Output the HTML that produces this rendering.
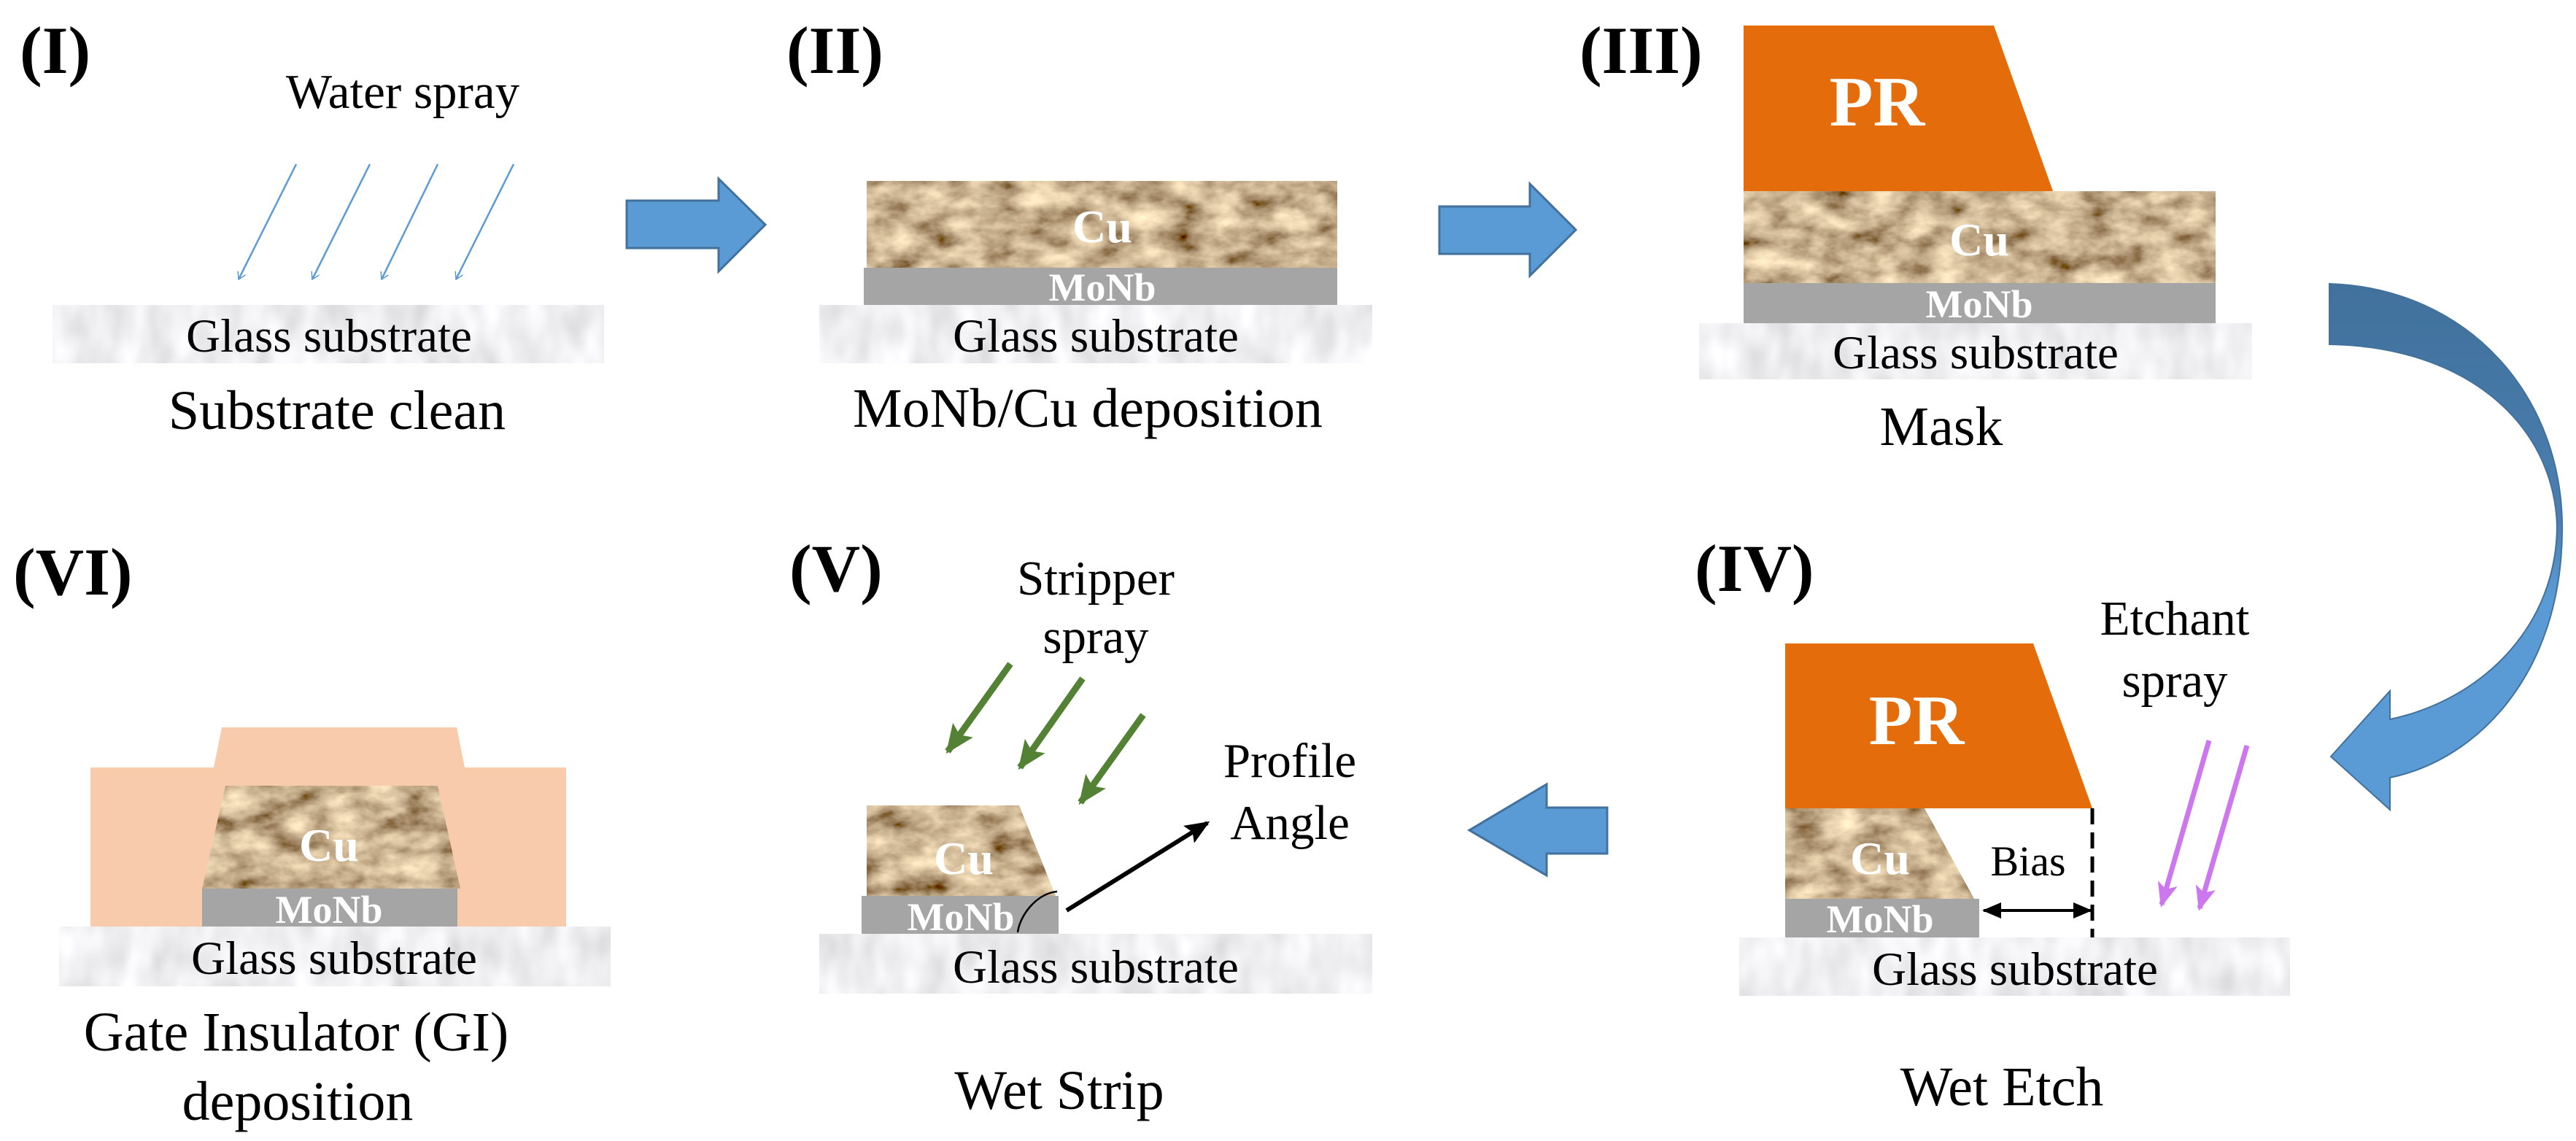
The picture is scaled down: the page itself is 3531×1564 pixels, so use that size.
<!DOCTYPE html>
<html><head><meta charset="utf-8"><style>
html,body{margin:0;padding:0;background:#fff;}
svg{display:block;}
text{font-family:"Liberation Serif","Times New Roman",serif;}
.lbl{font-weight:bold;font-size:92px;fill:#000;}
.cap{font-size:76px;fill:#000;text-anchor:middle;}
.gl{font-size:65px;fill:#000;text-anchor:middle;}
.wt{font-weight:bold;fill:#fff;text-anchor:middle;}
.sm{font-size:67px;fill:#000;text-anchor:middle;}
</style></head><body>
<svg width="3531" height="1564" viewBox="0 0 3531 1564" xmlns="http://www.w3.org/2000/svg" font-family="Liberation Serif, serif">
<defs>
<filter id="cu" x="0" y="0" width="1" height="1">
 <feTurbulence type="fractalNoise" baseFrequency="0.02 0.035" numOctaves="4" seed="4" result="n"/>
 <feColorMatrix in="n" type="matrix" values="1.3 0 0 0 -0.05  1.15 0 0 0 -0.12  0.85 0 0 0 -0.14  0 0 0 0 1" result="c"/>
 <feComposite in="c" in2="SourceGraphic" operator="in"/>
</filter>
<filter id="gls" x="0" y="0" width="1" height="1">
 <feTurbulence type="fractalNoise" baseFrequency="0.03 0.015" numOctaves="2" seed="7" result="n"/>
 <feColorMatrix in="n" type="matrix" values="0.45 0 0 0 0.64  0.45 0 0 0 0.64  0.45 0 0 0 0.66  0 0 0 0 1" result="c"/>
 <feComposite in="c" in2="SourceGraphic" operator="in"/>
</filter>
<linearGradient id="cg" x1="0" y1="0" x2="0" y2="1">
 <stop offset="0" stop-color="#41719c"/><stop offset="0.45" stop-color="#4a7fb0"/><stop offset="0.6" stop-color="#5b9bd5"/><stop offset="1" stop-color="#5b9bd5"/>
</linearGradient>
<marker id="wa" markerWidth="12" markerHeight="12" refX="10" refY="6" orient="auto" markerUnits="userSpaceOnUse" viewBox="0 0 12 12"><path d="M0,0 L10,6 L0,12" fill="none" stroke="#5b9bd5" stroke-width="1.5"/></marker>
<marker id="ga" markerWidth="40" markerHeight="34" refX="36" refY="17" orient="auto" markerUnits="userSpaceOnUse"><path d="M0,0 L40,17 L0,34 L8,17 Z" fill="#548235"/></marker>
<marker id="pa" markerWidth="34" markerHeight="28" refX="30" refY="14" orient="auto" markerUnits="userSpaceOnUse"><path d="M0,0 L34,14 L0,28 L8,14 Z" fill="#cc77ee"/></marker>
<marker id="ba" markerWidth="34" markerHeight="28" refX="30" refY="14" orient="auto" markerUnits="userSpaceOnUse"><path d="M0,0 L34,14 L0,28 L6,14 Z" fill="#000"/></marker>
<marker id="bb" markerWidth="26" markerHeight="22" refX="24" refY="11" orient="auto-start-reverse" markerUnits="userSpaceOnUse"><path d="M0,0 L26,11 L0,22 Z" fill="#000"/></marker>
</defs>

<!-- (I) -->
<text class="lbl" x="27" y="100">(I)</text>
<text class="sm" x="552" y="148">Water spray</text>
<g stroke="#5b9bd5" stroke-width="2.5" marker-end="url(#wa)">
<line x1="406" y1="225" x2="327" y2="383"/><line x1="507" y1="225" x2="428" y2="383"/>
<line x1="600" y1="225" x2="523" y2="383"/><line x1="704" y1="225" x2="625" y2="383"/>
</g>
<rect x="72" y="418" width="756" height="80" fill="#ccc" filter="url(#gls)"/>
<text class="gl" x="451" y="482">Glass substrate</text>
<text class="cap" x="462" y="588">Substrate clean</text>

<!-- arrow 1 -->
<path d="M859,275 L985,275 L985,245 L1049,308 L985,372 L985,340 L859,340 Z" fill="#5b9bd5" stroke="#41719c" stroke-width="3"/>

<!-- (II) -->
<text class="lbl" x="1078" y="100">(II)</text>
<rect x="1188" y="248" width="645" height="120" fill="#a88258" filter="url(#cu)"/>
<rect x="1184" y="367" width="649" height="53" fill="#a5a5a5"/>
<rect x="1123" y="418" width="758" height="80" fill="#ccc" filter="url(#gls)"/>
<text class="wt" x="1511" y="332" style="font-size:64px">Cu</text>
<text class="wt" x="1511" y="412" style="font-size:54px">MoNb</text>
<text class="gl" x="1502" y="482">Glass substrate</text>
<text class="cap" x="1491" y="585">MoNb/Cu deposition</text>

<!-- arrow 2 -->
<path d="M1973,283 L2097,283 L2097,252 L2160,315 L2097,378 L2097,348 L1973,348 Z" fill="#5b9bd5" stroke="#41719c" stroke-width="3"/>

<!-- (III) -->
<text class="lbl" x="2165" y="100">(III)</text>
<path d="M2390,35 L2733,35 L2814,262 L2390,262 Z" fill="#e46c0a"/>
<rect x="2390" y="262" width="647" height="127" fill="#a88258" filter="url(#cu)"/>
<rect x="2390" y="388" width="647" height="55" fill="#a5a5a5"/>
<rect x="2329" y="443" width="758" height="77" fill="#ccc" filter="url(#gls)"/>
<text class="wt" x="2573" y="172" style="font-size:98px">PR</text>
<text class="wt" x="2713" y="350" style="font-size:64px">Cu</text>
<text class="wt" x="2713" y="435" style="font-size:54px">MoNb</text>
<text class="gl" x="2708" y="505">Glass substrate</text>
<text class="cap" x="2661" y="610">Mask</text>

<!-- curved arrow -->
<path d="M3193,389 C3380,395 3515,540 3512,730 C3510,920 3400,1040 3276,1066 L3276,1110 L3195,1037 L3276,947 L3276,986 C3400,960 3505,860 3505,720 C3500,580 3380,475 3193,472 Z" fill="url(#cg)" stroke="#41719c" stroke-width="2"/>

<!-- (IV) -->
<text class="lbl" x="2323" y="810">(IV)</text>
<text class="sm" x="2981" y="870">Etchant</text>
<text class="sm" x="2981" y="955">spray</text>
<path d="M2447,882 L2787,882 L2868,1108 L2447,1108 Z" fill="#e46c0a"/>
<path d="M2447,1108 L2638,1108 L2706,1232 L2447,1232 Z" fill="#a88258" filter="url(#cu)"/>
<rect x="2447" y="1232" width="266" height="53" fill="#a5a5a5"/>
<rect x="2384" y="1285" width="755" height="80" fill="#ccc" filter="url(#gls)"/>
<text class="wt" x="2627" y="1020" style="font-size:98px">PR</text>
<text class="wt" x="2577" y="1198" style="font-size:64px">Cu</text>
<text class="wt" x="2577" y="1278" style="font-size:54px">MoNb</text>
<line x1="2868" y1="1108" x2="2868" y2="1285" stroke="#000" stroke-width="5" stroke-dasharray="22,11"/>
<line x1="2719" y1="1248" x2="2866" y2="1248" stroke="#000" stroke-width="4" marker-start="url(#bb)" marker-end="url(#bb)"/>
<text x="2780" y="1200" style="font-size:58px;text-anchor:middle">Bias</text>
<g stroke="#cc77ee" stroke-width="7" marker-end="url(#pa)">
<line x1="3028" y1="1015" x2="2963" y2="1240"/><line x1="3080" y1="1022" x2="3015" y2="1245"/>
</g>
<text class="gl" x="2762" y="1350">Glass substrate</text>
<text class="cap" x="2744" y="1515">Wet Etch</text>

<!-- arrow left -->
<path d="M2203,1107 L2120,1107 L2120,1075 L2014,1138 L2120,1200 L2120,1170 L2203,1170 Z" fill="#5b9bd5" stroke="#41719c" stroke-width="3"/>

<!-- (V) -->
<text class="lbl" x="1082" y="810">(V)</text>
<text class="sm" x="1502" y="815">Stripper</text>
<text class="sm" x="1502" y="895">spray</text>
<g stroke="#548235" stroke-width="9" marker-end="url(#ga)">
<line x1="1385" y1="910" x2="1299" y2="1030"/><line x1="1484" y1="930" x2="1398" y2="1052"/>
<line x1="1567" y1="980" x2="1481" y2="1100"/>
</g>
<path d="M1188,1104 L1397,1104 L1447,1228 L1188,1228 Z" fill="#a88258" filter="url(#cu)"/>
<rect x="1181" y="1228" width="270" height="52" fill="#a5a5a5"/>
<rect x="1123" y="1280" width="758" height="82" fill="#ccc" filter="url(#gls)"/>
<text class="wt" x="1321" y="1198" style="font-size:64px">Cu</text>
<text class="wt" x="1317" y="1275" style="font-size:54px">MoNb</text>
<path d="M1449,1222 C1420,1225 1398,1255 1395,1278" fill="none" stroke="#000" stroke-width="2.5"/>
<line x1="1462" y1="1248" x2="1655" y2="1128" stroke="#000" stroke-width="6" marker-end="url(#ba)"/>
<text class="sm" x="1768" y="1065">Profile</text>
<text class="sm" x="1768" y="1150">Angle</text>
<text class="gl" x="1502" y="1347">Glass substrate</text>
<text class="cap" x="1452" y="1520">Wet Strip</text>

<!-- (VI) -->
<text class="lbl" x="18" y="815">(VI)</text>
<path d="M124,1052 L293,1052 L304,997 L626,997 L637,1052 L776,1052 L776,1270 L124,1270 Z" fill="#f8cbad"/>
<path d="M309,1077 L600,1077 L631,1218 L277,1218 Z" fill="#a88258" filter="url(#cu)"/>
<rect x="277" y="1218" width="350" height="52" fill="#a5a5a5"/>
<rect x="81" y="1270" width="756" height="82" fill="#ccc" filter="url(#gls)"/>
<text class="wt" x="451" y="1180" style="font-size:64px">Cu</text>
<text class="wt" x="451" y="1265" style="font-size:54px">MoNb</text>
<text class="gl" x="458" y="1335">Glass substrate</text>
<text class="cap" x="406" y="1440">Gate Insulator (GI)</text>
<text class="cap" x="408" y="1535">deposition</text>
</svg>
</body></html>
